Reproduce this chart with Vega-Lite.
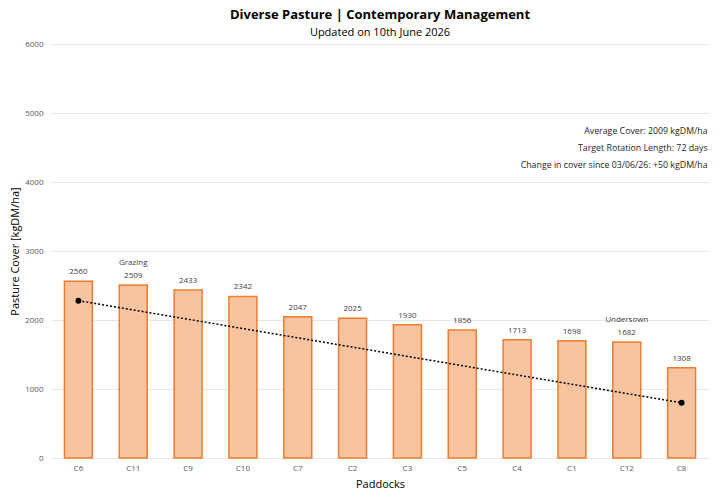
{
  "$schema": "https://vega.github.io/schema/vega-lite/v6.json",
  "width": 658,
  "height": 414,
  "autosize": "none",
  "padding": {"left": 51, "top": 44, "right": 11, "bottom": 42},
  "background": "white",
  "config": {
    "font": "Open Sans",
    "view": {"stroke": null},
    "title": {"font": "Open Sans"}
  },
  "title": {
    "text": "Diverse Pasture | Contemporary Management",
    "subtitle": "Updated on 10th June 2026",
    "fontSize": 13,
    "fontWeight": "bold",
    "color": "#000000",
    "subtitleFontSize": 11,
    "subtitleColor": "#000000",
    "subtitlePadding": 5,
    "anchor": "middle",
    "offset": 2,
    "frame": "group"
  },
  "datasets": {
    "bars": [
      {"paddock": "C6", "cover": 2560, "note": "", "trend": 2280},
      {"paddock": "C11", "cover": 2509, "note": "Grazing", "trend": null},
      {"paddock": "C9", "cover": 2433, "note": "", "trend": null},
      {"paddock": "C10", "cover": 2342, "note": "", "trend": null},
      {"paddock": "C7", "cover": 2047, "note": "", "trend": null},
      {"paddock": "C2", "cover": 2025, "note": "", "trend": null},
      {"paddock": "C3", "cover": 1930, "note": "", "trend": null},
      {"paddock": "C5", "cover": 1856, "note": "", "trend": null},
      {"paddock": "C4", "cover": 1713, "note": "", "trend": null},
      {"paddock": "C1", "cover": 1698, "note": "", "trend": null},
      {"paddock": "C12", "cover": 1682, "note": "Undersown", "trend": null},
      {"paddock": "C8", "cover": 1308, "note": "", "trend": 800}
    ],
    "info": [
      {"line": "Average Cover: 2009 kgDM/ha", "ypos": 4746},
      {"line": "Target Rotation Length: 72 days", "ypos": 4499},
      {"line": "Change in cover since 03/06/26: +50 kgDM/ha", "ypos": 4252}
    ]
  },
  "data": {"name": "bars"},
  "encoding": {
    "x": {
      "field": "paddock",
      "type": "nominal",
      "sort": null,
      "scale": {"paddingInner": 0.49, "paddingOuter": 0.245},
      "axis": {
        "title": "Paddocks",
        "titleFontSize": 11,
        "titleFontWeight": "normal",
        "titleColor": "#000000",
        "titlePadding": 6,
        "labelAngle": 0,
        "labelFontSize": 8,
        "labelColor": "#595959",
        "labelPadding": 6,
        "domain": false,
        "ticks": false
      }
    }
  },
  "layer": [
    {
      "mark": {"type": "bar", "fill": "#f8c4a0", "stroke": "#ED7D31", "strokeWidth": 1.5},
      "encoding": {
        "y": {
          "field": "cover",
          "type": "quantitative",
          "scale": {"domain": [0, 6000]},
          "axis": {
            "title": "Pasture Cover [kgDM/ha]",
            "titleFontSize": 11,
            "titleFontWeight": "normal",
            "titleColor": "#000000",
            "titlePadding": 4,
            "values": [0, 1000, 2000, 3000, 4000, 5000, 6000],
            "format": "d",
            "labelFontSize": 8,
            "labelColor": "#595959",
            "labelPadding": 8,
            "domain": false,
            "ticks": false,
            "gridColor": "#e6e6e6",
            "gridWidth": 1
          }
        }
      }
    },
    {
      "mark": {"type": "text", "baseline": "bottom", "dy": -5, "fontSize": 8, "color": "#404040"},
      "encoding": {
        "y": {"field": "cover", "type": "quantitative"},
        "text": {"field": "cover", "type": "quantitative", "format": "d"}
      }
    },
    {
      "mark": {"type": "text", "baseline": "bottom", "dy": -18, "fontSize": 8, "color": "#404040"},
      "encoding": {
        "y": {"field": "cover", "type": "quantitative"},
        "text": {"field": "note", "type": "nominal"}
      }
    },
    {
      "transform": [{"filter": "datum.trend != null"}],
      "mark": {"type": "line", "color": "#000000", "strokeDash": [2, 2], "strokeWidth": 1.5},
      "encoding": {
        "y": {"field": "trend", "type": "quantitative"}
      }
    },
    {
      "transform": [{"filter": "datum.trend != null"}],
      "mark": {"type": "point", "filled": true, "color": "#000000", "size": 35, "opacity": 1},
      "encoding": {
        "y": {"field": "trend", "type": "quantitative"}
      }
    },
    {
      "data": {"name": "info"},
      "mark": {"type": "text", "align": "right", "baseline": "middle", "dx": 26, "fontSize": 8.8, "color": "#262626"},
      "encoding": {
        "x": {"datum": "C8"},
        "y": {"field": "ypos", "type": "quantitative"},
        "text": {"field": "line", "type": "nominal"}
      }
    }
  ]
}
